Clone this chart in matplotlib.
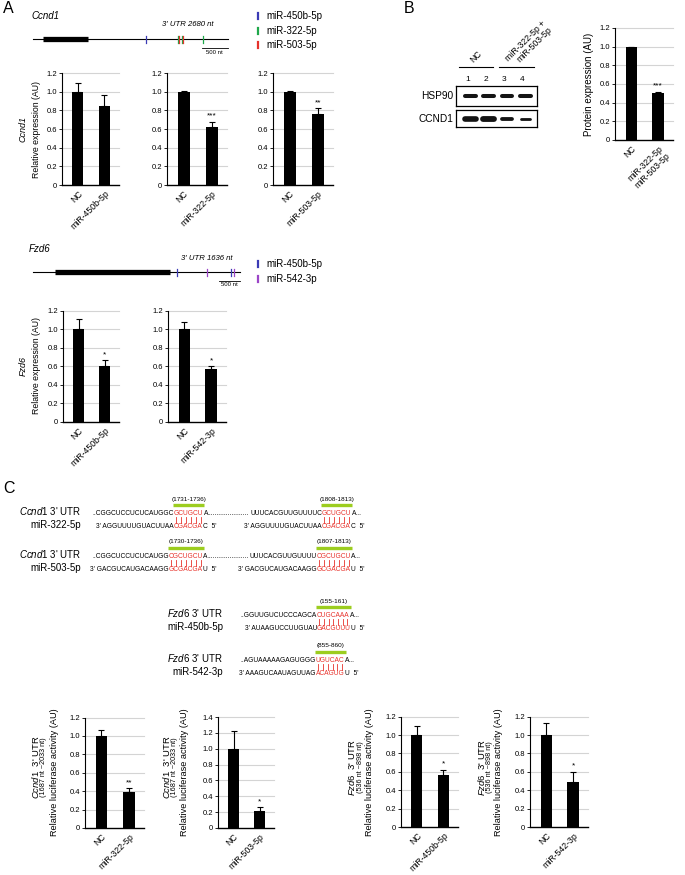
import numpy as np
import matplotlib
matplotlib.use('Agg')
import matplotlib.pyplot as plt

# ---------------- data ----------------
ccnd1_mirs = ['miR-450b-5p', 'miR-322-5p', 'miR-503-5p']
ccnd1_nc = [1.0, 1.0, 1.0]
ccnd1_nc_err = [0.09, 0.005, 0.005]
ccnd1_mir = [0.85, 0.62, 0.76]
ccnd1_mir_err = [0.11, 0.06, 0.06]
ccnd1_sig = ['', '***', '**']

fzd6_mirs = ['miR-450b-5p', 'miR-542-3p']
fzd6_nc = [1.0, 1.0]
fzd6_nc_err = [0.11, 0.085]
fzd6_mir = [0.60, 0.57]
fzd6_mir_err = [0.065, 0.035]
fzd6_sig = ['*', '*']

protein_labels = ['NC', 'miR-322-5p\nmiR-503-5p']
protein_vals = [1.0, 0.50]
protein_err = [0.0, 0.015]
protein_sig = ['', '***']

blot_lanes = [1, 2, 3, 4]
hsp90_bands = [1.0, 1.0, 1.0, 1.0]
ccnd1_bands = [1.4, 1.45, 0.95, 0.7]

luc_genes = ['Ccnd1', 'Ccnd1', 'Fzd6', 'Fzd6']
luc_ranges = ['(1687 nt ~2033 nt)', '(1687 nt ~2033 nt)', '(536 nt ~898 nt)', '(536 nt ~898 nt)']
luc_mirs = ['miR-322-5p', 'miR-503-5p', 'miR-450b-5p', 'miR-542-3p']
luc_nc = [1.0, 1.0, 1.0, 1.0]
luc_nc_err = [0.06, 0.22, 0.10, 0.13]
luc_mir = [0.39, 0.21, 0.57, 0.49]
luc_mir_err = [0.045, 0.05, 0.05, 0.11]
luc_sig = ['**', '*', '*', '*']
luc_ymax = [1.2, 1.4, 1.2, 1.2]

# gene diagrams (nt)
ccnd1_parts = [190, 870, 2680]          # 5'UTR, CDS, 3'UTR
ccnd1_site_mirs = ['miR-450b-5p', 'miR-322-5p', 'miR-503-5p']
ccnd1_site_pos = [[1115], [1731, 1808, 2210], [1730, 1807]]
fzd6_parts = [515, 2690, 1636]
fzd6_site_mirs = ['miR-450b-5p', 'miR-542-3p']
fzd6_site_pos = [[155, 1430], [855, 1490]]

# sequences: (prefix, seed, suffix)
ccnd1_322_utr = [('..CGGCUCCUCUCAUGGC', 'GCUGCU', 'A'), ('UUUCACGUUGUUUUC', 'GCUGCU', 'A...')]
ccnd1_322_mir = [("3' AGGUUUUGUACUUAA", 'CGACGA', "C  5'"), ("3' AGGUUUUGUACUUAA", 'CGACGA', "C  5'")]
ccnd1_322_sites = ['(1731-1736)', '(1808-1813)']
ccnd1_503_utr = [('..CGGCUCCUCUCAUGG', 'CGCUGCU', 'A'), ('UUUCACGUUGUUUU', 'CGCUGCU', 'A...')]
ccnd1_503_mir = [("3' GACGUCAUGACAAGG", 'GCGACGA', "U  5'"), ("3' GACGUCAUGACAAGG", 'GCGACGA', "U  5'")]
ccnd1_503_sites = ['(1730-1736)', '(1807-1813)']
fzd6_450_utr = [('..GGUUGUCUCCCAGCA', 'CUGCAAA', 'A...')]
fzd6_450_mir = [("3' AUAAGUCCUUGUAU", 'GACGUUU', "U  5'")]
fzd6_450_sites = ['(155-161)']
fzd6_542_utr = [('..AGUAAAAAGAGUGGG', 'UGUCAC', 'A...')]
fzd6_542_mir = [("3' AAAGUCAAUAGUUAG", 'ACAGUG', "U  5'")]
fzd6_542_sites = ['(855-860)']

mir_colors = {'miR-450b-5p': '#3b3bb5', 'miR-322-5p': '#1fa84a',
              'miR-503-5p': '#e5322b', 'miR-542-3p': '#9b45c8'}
RED = '#e8322b'
GREEN = '#9ccd1f'

# ---------------- setup ----------------
W, H = 685, 875
plt.rcParams['font.family'] = ['Liberation Sans', 'DejaVu Sans']
plt.rcParams['mathtext.fontset'] = 'custom'
plt.rcParams['mathtext.it'] = 'Liberation Sans:italic'
plt.rcParams['mathtext.rm'] = 'Liberation Sans'
plt.rcParams['mathtext.bf'] = 'Liberation Sans:bold'

fig = plt.figure(figsize=(W / 100, H / 100), dpi=100)


def px_axes(x0, y0, x1, y1):
    return fig.add_axes([x0 / W, 1 - y1 / H, (x1 - x0) / W, (y1 - y0) / H])


def bar_chart(rect, labels, vals, errs, sigs, ymax, tick_fs=5.5, lab_fs=6.3):
    ax = px_axes(*rect)
    x = np.arange(len(vals))
    ax.bar(x, vals, width=0.42, color='black', zorder=3)
    ax.errorbar(x, vals, yerr=[np.zeros(len(vals)), errs], fmt='none', ecolor='black',
                elinewidth=0.8, capsize=2, capthick=0.8, zorder=4)
    ax.set_ylim(0, ymax)
    ax.set_xlim(-0.6, 1.55)
    ticks = np.round(np.arange(0, ymax + 1e-6, 0.2), 1)
    ax.set_yticks(ticks)
    ax.set_yticklabels(['0' if t == 0 else f'{t:.1f}' for t in ticks], fontsize=tick_fs)
    for t in ticks[1:]:
        ax.axhline(t, color='#d4d4d4', lw=0.8, zorder=1, clip_on=False)
    for s in ['top', 'right']:
        ax.spines[s].set_visible(False)
    ax.spines['left'].set_linewidth(0.8)
    ax.spines['bottom'].set_linewidth(1.0)
    ax.tick_params(axis='y', length=2, width=0.6, pad=1.5)
    ax.tick_params(axis='x', length=0, pad=3)
    ax.set_xticks(x)
    ax.set_xticklabels(labels, rotation=45, ha='right', rotation_mode='anchor', fontsize=lab_fs)
    for xi, v, e, s in zip(x, vals, errs, sigs):
        if s:
            ax.annotate(s, (xi, v + e), xytext=(0, 1.5), textcoords='offset points',
                        ha='center', va='bottom', fontsize=6)
    ax.patch.set_alpha(0)
    return ax


# ---------------- Panel A: Ccnd1 qPCR ----------------
ccnd1_rects = [(62, 73, 119, 185), (167, 73, 227, 185), (273, 73, 333, 185)]
for i, r in enumerate(ccnd1_rects):
    bar_chart(r, ['NC', ccnd1_mirs[i]], [ccnd1_nc[i], ccnd1_mir[i]],
              [ccnd1_nc_err[i], ccnd1_mir_err[i]], ['', ccnd1_sig[i]], 1.2)

fzd6_rects = [(63, 311, 119, 422), (168, 311, 226, 422)]
for i, r in enumerate(fzd6_rects):
    bar_chart(r, ['NC', fzd6_mirs[i]], [fzd6_nc[i], fzd6_mir[i]],
              [fzd6_nc_err[i], fzd6_mir_err[i]], ['', fzd6_sig[i]], 1.2)

# ---------------- Panel B: bar chart ----------------
bar_chart((615, 28, 673, 140), protein_labels, protein_vals, protein_err, protein_sig, 1.2,
          lab_fs=6.3)

# ---------------- Panel B: blot ----------------
blot_axes = [px_axes(456, 86, 537, 106), px_axes(456, 110, 537, 127)]
for ax, vals in zip(blot_axes, [hsp90_bands, ccnd1_bands]):
    ax.set_xlim(0.2, 4.65)
    ax.set_ylim(-1, 1)
    for lane, v in zip(blot_lanes, vals):
        half = 0.3 * min(1.0, v) ** 0.5
        ax.plot([lane - half, lane + half], [0, 0], lw=2.9 * v, color='#141414',
                solid_capstyle='round')
    ax.set_xticks([])
    ax.set_yticks([])
    for s in ax.spines.values():
        s.set_linewidth(0.9)
axh = blot_axes[0]
tr = axh.get_xaxis_transform()
for lane in blot_lanes:
    axh.text(lane - 0.15, 1.3, str(lane), transform=tr, ha='center', va='center', fontsize=6)
axh.plot([0.36, 2.23], [1.95, 1.95], transform=tr, color='black', lw=0.8, clip_on=False)
axh.plot([2.56, 4.49], [1.95, 1.95], transform=tr, color='black', lw=0.8, clip_on=False)
axh.text(1.2, 2.1, 'NC', transform=tr, rotation=45, rotation_mode='anchor',
         ha='left', va='bottom', fontsize=6.3)
axh.text(3.5, 1.85, 'miR-322-5p +\nmiR-503-5p', transform=tr, rotation=45,
         rotation_mode='anchor', ha='left', va='bottom', multialignment='right',
         fontsize=6.3, linespacing=1.0)

# ---------------- Panel C: luciferase ----------------
luc_rects = [(85, 717.6, 144, 828), (218, 717, 274, 828), (401, 716.6, 458, 827), (530, 716.6, 588, 827)]
luc_label_x = [(36, 43.5, 55), (167, 175, 185), (352, 361, 370), (482, 489.5, 499)]
for i, r in enumerate(luc_rects):
    bar_chart(r, ['NC', luc_mirs[i]], [luc_nc[i], luc_mir[i]],
              [luc_nc_err[i], luc_mir_err[i]], ['', luc_sig[i]], luc_ymax[i])

# ---------------- overlay (pixel coordinates) ----------------
ov = fig.add_axes([0, 0, 1, 1])
ov.set_xlim(0, W)
ov.set_ylim(H, 0)
ov.axis('off')
ov.patch.set_alpha(0)

ov.text(3, 1, 'A', fontsize=11.5, ha='left', va='top')
ov.text(404, 1, 'B', fontsize=11.5, ha='left', va='top')
ov.text(3, 481, 'C', fontsize=11.5, ha='left', va='top')

# y labels for qPCR charts
ov.text(23, 129, 'Ccnd1', style='italic', rotation=90, ha='center', va='center', fontsize=6.5)
ov.text(37, 129, 'Relative expression (AU)', rotation=90, ha='center', va='center', fontsize=6.3)
ov.text(23, 366, 'Fzd6', style='italic', rotation=90, ha='center', va='center', fontsize=6.5)
ov.text(37, 366, 'Relative expression (AU)', rotation=90, ha='center', va='center', fontsize=6.3)
ov.text(589, 84, 'Protein expression (AU)', rotation=90, ha='center', va='center', fontsize=7)
for (x1, x2, x3), g, rg in zip(luc_label_x, luc_genes, luc_ranges):
    ov.text(x1, 767, r'$\mathit{' + g + r'}$  3' + "' UTR", rotation=90, ha='center', va='center', fontsize=6.8)
    ov.text(x2, 767, rg, rotation=90, ha='center', va='center', fontsize=5.2)
    ov.text(x3, 772, 'Relative luciferase activity (AU)', rotation=90, ha='center', va='center', fontsize=6.6)

# blot labels
ov.text(453, 96, 'HSP90', ha='right', va='center', fontsize=7.3)
ov.text(453, 118.5, 'CCND1', ha='right', va='center', fontsize=7.3)


# gene diagrams
def gene_diagram(x0, y, scale, parts, site_mirs, site_pos, bar_dy, utr_text, utr_xy, title, title_xy,
                 legend_y):
    utr5, cds, utr3 = parts
    end = x0 + (utr5 + cds + utr3) / scale
    ov.plot([x0, end], [y, y], color='black', lw=0.8)
    ov.plot([x0 + utr5 / scale, x0 + (utr5 + cds) / scale], [y, y], color='black', lw=3.8,
            solid_capstyle='butt')
    base = x0 + (utr5 + cds) / scale
    offs = {'miR-322-5p': -0.7, 'miR-503-5p': 0.7}
    for m, poss in zip(site_mirs, site_pos):
        for p in poss:
            xx = base + p / scale + offs.get(m, 0)
            ov.plot([xx, xx], [y - 3.5, y + 3.5], color=mir_colors[m], lw=0.9)
    ov.plot([end - 500 / scale, end], [y + bar_dy, y + bar_dy], color='black', lw=0.6)
    ov.text(end - 250 / scale, y + bar_dy + 1.5, '500 nt', ha='center', va='top', fontsize=4.3)
    ov.text(utr_xy[0], utr_xy[1], utr_text, style='italic', ha='center', va='center', fontsize=5.6)
    ov.text(title_xy[0], title_xy[1], title, style='italic', ha='left', va='center', fontsize=7)
    for m, ly in zip(site_mirs, legend_y):
        ov.plot([258, 258], [ly - 3, ly + 3], color=mir_colors[m], lw=1.6)
        ov.text(266, ly, m, ha='left', va='center', fontsize=7)


gene_diagram(33, 39, 19.2, ccnd1_parts, ccnd1_site_mirs, ccnd1_site_pos, 9,
             "3' UTR 2680 nt", (188, 25), 'Ccnd1', (31, 16), [16, 30.5, 44.5])
gene_diagram(33, 272, 23.4, fzd6_parts, fzd6_site_mirs, fzd6_site_pos, 9,
             "3' UTR 1636 nt", (207, 258), 'Fzd6', (29, 249), [264, 279])

# sequences
SEQ_FS = 4.75
rows = [
    (r'$\mathit{Ccnd1}$ 3' + "' UTR", 'miR-322-5p', 515, 81, ccnd1_322_utr, ccnd1_322_mir, ccnd1_322_sites, [174, 322]),
    (r'$\mathit{Ccnd1}$ 3' + "' UTR", 'miR-503-5p', 558, 81, ccnd1_503_utr, ccnd1_503_mir, ccnd1_503_sites, [169, 317]),
    (r'$\mathit{Fzd6}$ 3' + "' UTR", 'miR-450b-5p', 617, 223, fzd6_450_utr, fzd6_450_mir, fzd6_450_sites, [317]),
    (r'$\mathit{Fzd6}$ 3' + "' UTR", 'miR-542-3p', 662, 223, fzd6_542_utr, fzd6_542_mir, fzd6_542_sites, [316]),
]

seq_store = []
for lab_u, lab_m, y, lx, utr, mir, sites, reds in rows:
    ov.text(lx, y, lab_u, ha='right', va='baseline', fontsize=7)
    ov.text(lx, y + 13, lab_m, ha='right', va='baseline', fontsize=7)
    blocks = []
    for (up, ur, us), (mp, mr, ms), site, xr in zip(utr, mir, sites, reds):
        tu = ov.text(xr, y, ur, color=RED, ha='left', va='baseline', fontsize=SEQ_FS)
        pu = ov.annotate(up, xy=(0, 0), xycoords=tu, ha='right', va='bottom', fontsize=SEQ_FS)
        su = ov.annotate(us, xy=(1, 0), xycoords=tu, ha='left', va='bottom', fontsize=SEQ_FS)
        tm = ov.text(xr, y + 13, mr, color=RED, ha='left', va='baseline', fontsize=SEQ_FS)
        ov.annotate(mp, xy=(0, 0), xycoords=tm, ha='right', va='bottom', fontsize=SEQ_FS)
        ov.annotate(ms, xy=(1, 0), xycoords=tm, ha='left', va='bottom', fontsize=SEQ_FS)
        blocks.append((tu, pu, su, len(ur), site))
    seq_store.append((y, blocks))

fig.canvas.draw()
renderer = fig.canvas.get_renderer()
inv = ov.transData.inverted()


def data_bbox(artist):
    bb = artist.get_window_extent(renderer)
    (xa, ya), (xb, yb) = inv.transform([(bb.x0, bb.y0), (bb.x1, bb.y1)])
    return xa, xb


tmp = ov.text(0, 0, '.' * 20, fontsize=SEQ_FS)
bbt = tmp.get_window_extent(renderer)
dot_w = bbt.width / 20.0
tmp.remove()

for y, blocks in seq_store:
    for k, (tu, pu, su, n, site) in enumerate(blocks):
        xa, xb = data_bbox(tu)
        for i in range(n):
            xx = xa + (i + 0.5) * (xb - xa) / n
            ov.plot([xx, xx], [y + 2.3, y + 8.3], color=RED, lw=0.6)
        ov.plot([xa - 1, xb + 1], [y - 10.5, y - 10.5], color=GREEN, lw=2.4, solid_capstyle='butt')
        ov.text((xa + xb) / 2, y - 14.5, site, ha='center', va='baseline', fontsize=4.6)
        if k + 1 < len(blocks):
            _, end1 = data_bbox(su)
            start2, _ = data_bbox(blocks[k + 1][1])
            nd = int((start2 - end1) / dot_w)
            if nd > 0:
                ov.annotate('.' * nd, xy=(1, 0), xycoords=su, ha='left', va='bottom', fontsize=SEQ_FS)

fig.savefig('out.png', dpi=100)
